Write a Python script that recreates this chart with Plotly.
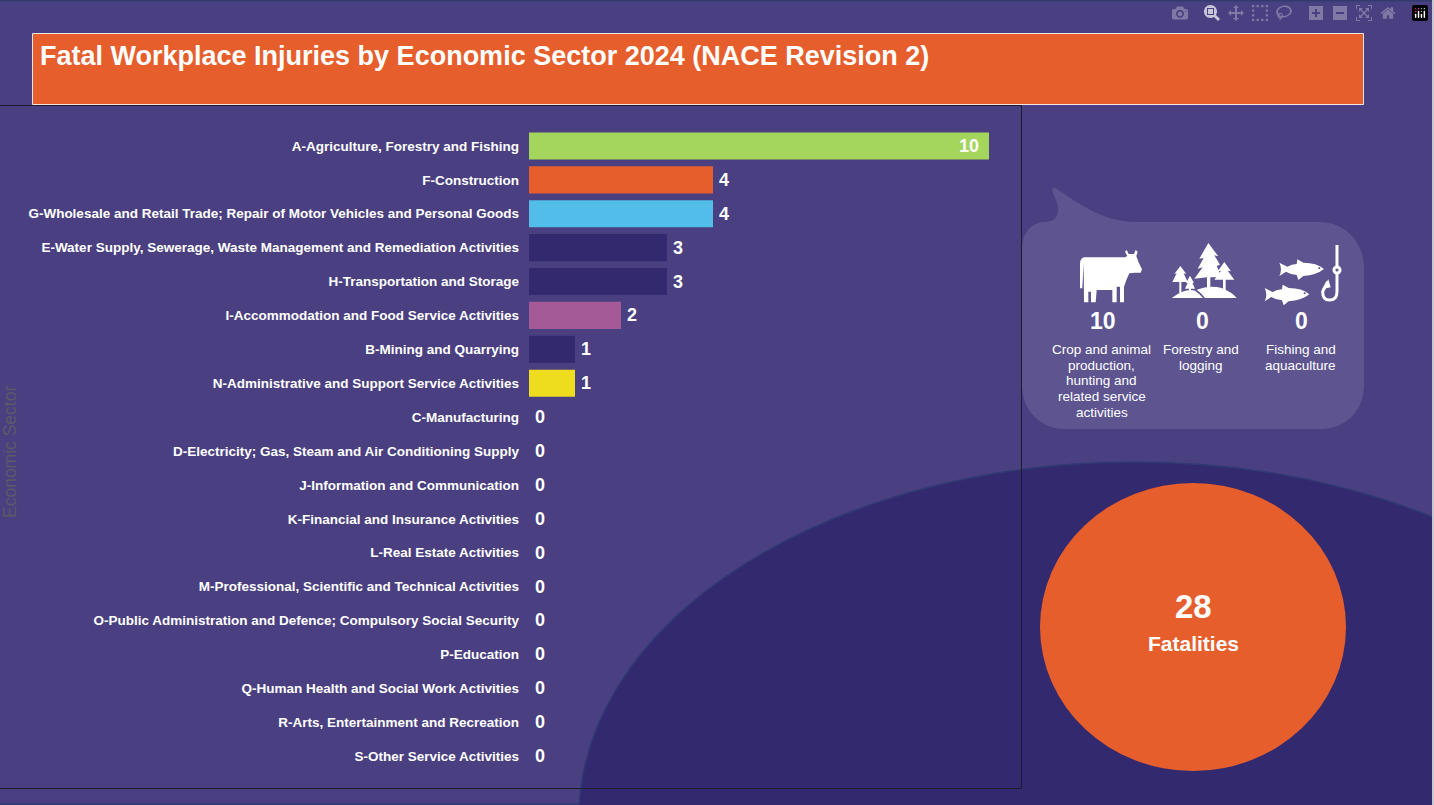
import re
import plotly.graph_objects as go

W, H = 1434, 805
FONT = "Liberation Sans"

sectors = [
    "A-Agriculture, Forestry and Fishing", "F-Construction",
    "G-Wholesale and Retail Trade; Repair of Motor Vehicles and Personal Goods",
    "E-Water Supply, Sewerage, Waste Management and Remediation Activities",
    "H-Transportation and Storage", "I-Accommodation and Food Service Activities",
    "B-Mining and Quarrying", "N-Administrative and Support Service Activities",
    "C-Manufacturing", "D-Electricity; Gas, Steam and Air Conditioning Supply",
    "J-Information and Communication", "K-Financial and Insurance Activities",
    "L-Real Estate Activities", "M-Professional, Scientific and Technical Activities",
    "O-Public Administration and Defence; Compulsory Social Security", "P-Education",
    "Q-Human Health and Social Work Activities", "R-Arts, Entertainment and Recreation",
    "S-Other Service Activities",
]
fatalities = [10, 4, 4, 3, 3, 2, 1, 1, 0, 0, 0, 0, 0, 0, 0, 0, 0, 0, 0]
bar_colors = ["#a4d55d", "#e65e2c", "#51bde8", "#33296f", "#33296f", "#a45a96", "#33296f", "#eedc1f"] + ["#33296f"] * 11
sub_values = ["10", "0", "0"]
sub_labels = [
    ["Crop and animal", "production,", "hunting and", "related service", "activities"],
    ["Forestry and", "logging"],
    ["Fishing and", "aquaculture"],
]
title_text = "Fatal Workplace Injuries by Economic Sector 2024 (NACE Revision 2)"
total_value = "28"
total_label = "Fatalities"
axis_title = "Economic Sector"

BG, DARK, ORANGE, BUBBLE = "#4a3f80", "#33296f", "#e65e2c", "#5d5490"


def fx(x): return x / W
def fy(y): return 1 - y / H


def pth(d, ox=0, oy=0, s=1.0):
    """Convert an absolute pixel path to paper coordinates."""
    out, is_x = [], True
    for tok in re.findall(r"[MLQCZ]|-?\d+\.?\d*", d):
        if tok in "MLQCZ":
            out.append(tok)
            is_x = True
        else:
            v = float(tok)
            if is_x:
                out.append(f"{fx(ox + v * s):.6f}")
            else:
                out.append(f"{fy(oy + v * s):.6f}")
            is_x = not is_x
    r, i = [], 0
    while i < len(out):
        if out[i] in "MLQCZ":
            r.append(out[i]); i += 1
        else:
            r.append(out[i] + "," + out[i + 1]); i += 2
    return " ".join(r)


shapes = []


def rect(x0, y0, x1, y1, fill, line=None, lw=0):
    shapes.append(dict(type="rect", xref="paper", yref="paper", x0=fx(x0), x1=fx(x1), y0=fy(y0), y1=fy(y1),
                       fillcolor=fill, line=dict(color=line or fill, width=lw), layer="below"))


def ell(cx, cy, rx, ry, fill, line=None, lw=0):
    shapes.append(dict(type="circle", xref="paper", yref="paper", x0=fx(cx - rx), x1=fx(cx + rx), y0=fy(cy + ry), y1=fy(cy - ry),
                       fillcolor=fill, line=dict(color=line or fill, width=lw), layer="below"))


def poly(d, ox=0, oy=0, s=1.0, fill="white"):
    shapes.append(dict(type="path", xref="paper", yref="paper", path=pth(d, ox, oy, s), fillcolor=fill,
                       line=dict(width=0), layer="below"))


def stroke(d, ox, oy, s, w):
    shapes.append(dict(type="path", xref="paper", yref="paper", path=pth(d, ox, oy, s), fillcolor="rgba(0,0,0,0)",
                       line=dict(color="white", width=w), layer="below"))


# page furniture
ell(1135, 817, 556, 355, DARK, "#2f3a72", 1.5)
rect(0, 0, W, 1.5, "#2f3d6e")
rect(0, 803.5, 579, 805, "#2f3d6e")
rect(1432, 0, 1434, H, "#c8c8d0")
shapes.append(dict(type="line", xref="paper", yref="paper", x0=0, x1=fx(1021), y0=fy(105.5), y1=fy(105.5), line=dict(color="#1c1c2c", width=1), layer="below"))
shapes.append(dict(type="line", xref="paper", yref="paper", x0=0, x1=fx(1021), y0=fy(788.5), y1=fy(788.5), line=dict(color="#1c1c2c", width=1), layer="below"))
shapes.append(dict(type="line", xref="paper", yref="paper", x0=fx(1021.5), x1=fx(1021.5), y0=fy(105), y1=fy(789), line=dict(color="#1c1c2c", width=1), layer="below"))
rect(32.5, 33.5, 1363.5, 104.5, ORANGE, "#f0e6e6", 1)
ell(1193, 627, 153, 144, ORANGE)

# speech bubble
poly("M 1055 188 C 1075 200 1100 222 1137 222 L 1320 222 C 1345 222 1364 242 1364 268 L 1364 385 "
     "C 1364 412 1345 429 1320 429 L 1065 429 C 1040 429 1022 410 1022 385 L 1022 250 C 1022 232 1032 222 1046 222 "
     "C 1056 222 1059 214 1058 206 C 1056 198 1048 186 1055 188 Z", fill=BUBBLE)

# cow
poly("M 42 52 L 165 52 L 172 48 L 165 35 L 170 30 L 176 42 L 192 42 L 197 30 L 203 35 L 199 48 L 205 65 L 216 88 "
     "L 212 98 L 195 98 L 178 100 L 170 118 L 162 140 L 162 187 L 150 187 L 150 140 L 140 140 L 140 187 L 127 187 "
     "L 127 150 L 80 150 L 77 187 L 63 187 L 63 155 L 55 155 L 55 187 L 42 187 L 41 70 L 37 145 L 30 145 L 30 72 "
     "Q 30 55 42 52 Z", 1070, 240, 1 / 3)

# trees
T = (1165, 238, 1 / 3)
poly("M 130 15 L 160 55 L 148 52 L 165 80 L 155 84 L 170 118 L 136 118 L 136 150 L 126 150 L 126 118 L 88 122 "
     "L 113 88 L 98 92 L 116 60 L 103 62 Z", *T)
poly("M 178 72 L 198 100 L 188 98 L 208 125 L 182 125 L 182 160 L 174 160 L 174 125 L 148 125 L 168 98 L 158 100 Z", *T)
poly("M 46 84 L 64 108 L 56 106 L 68 132 L 49 132 L 49 165 L 43 165 L 43 132 L 22 132 L 35 106 L 28 108 Z", *T)
poly("M 75 113 L 87 135 L 82 134 L 90 152 L 78 152 L 78 165 L 72 165 L 72 152 L 60 152 L 68 134 L 63 135 Z", *T)
poly("M 20 180 Q 60 150 90 158 Q 105 168 114 180 Z", *T)
poly("M 95 155 Q 135 140 170 150 Q 205 165 215 180 L 120 180 Q 110 165 95 155 Z", *T)

# fish and hook
F = "M 58 68 Q 72 75 82 80 Q 95 72 110 72 L 112 58 L 130 68 Q 170 68 192 87 Q 170 105 130 108 L 115 120 L 110 105 Q 90 103 78 95 L 58 108 Q 68 88 58 68 Z"
S = 1 / 3
poly(F, 1260, 240, S)
poly(F, 1260 - 44 * S, 240 + 76 * S, S)
ell(1260 + 178 * S, 240 + 84 * S, 1, 1, BUBBLE)
ell(1260 + 134 * S, 240 + 160 * S, 1, 1, BUBBLE)
stroke("M 231 15 L 231 80", 1260, 240, S, 3)
stroke("M 231 100 L 231 155 Q 231 180 208 180 Q 188 180 188 155 L 203 125", 1260, 240, S, 3)
poly("M 205 118 L 186 148 L 212 142 Z", 1260, 240, S)
ell(1260 + 231 * S, 240 + 90 * S, 4.5, 4.5, "white")
ell(1260 + 231 * S, 240 + 90 * S, 1.6, 1.6, BUBBLE)

annotations = []


def text(x, y, s, size, bold=True, color="white", anchor="center", angle=0):
    annotations.append(dict(xref="paper", yref="paper", x=fx(x), y=fy(y), text=s, showarrow=False, xanchor=anchor, yanchor="middle",
                            textangle=angle, font=dict(family=FONT, size=size, color=color, weight=700 if bold else 400)))


text(38, 56, title_text, 27, anchor="left")
text(10, 452, axis_title, 17.5, bold=False, color="#5a5a68", angle=-90)
text(1193, 606, total_value, 33)
text(1193, 643, total_label, 21)
for cx, v in zip([1103, 1202, 1301], sub_values):
    text(cx, 321, v, 23)
for cx, lines in zip([1101.5, 1201, 1300.5], sub_labels):
    for i, ln in enumerate(lines):
        text(cx, 349.5 + i * 15.7, ln, 13.5, bold=False)

# value labels, placed from the data
top = max(fatalities)
for name, v in zip(sectors, fatalities):
    annotations.append(dict(
        xref="x", yref="y", x=v, y=name, text=str(v), showarrow=False,
        xanchor="right" if v == top else "left", xshift=-8 if v == top else 4,
        font=dict(family=FONT, size=18, color="white", weight=700)))

fig = go.Figure(go.Bar(
    y=sectors, x=fatalities, orientation="h", marker=dict(color=bar_colors, line=dict(width=0)),
))
fig.update_layout(
    width=W, height=H, autosize=False, margin=dict(l=0, r=0, t=0, b=0),
    paper_bgcolor=BG, plot_bgcolor="rgba(0,0,0,0)", showlegend=False, bargap=0.2,
    shapes=shapes, annotations=annotations,
    xaxis=dict(domain=[fx(529), fx(989)], range=[0, 10], visible=False),
    yaxis=dict(domain=[fy(773), fy(129)], range=[18.5, -0.5], type="category", showgrid=False, showline=False, ticks="",
               anchor="x", ticklabelstandoff=9, tickfont=dict(family=FONT, size=13.5, color="white", weight=700)),
)
fig.write_html("out.html", post_script="document.body.style.margin='0';document.body.style.overflow='hidden';document.body.style.background='#4a3f80';")
